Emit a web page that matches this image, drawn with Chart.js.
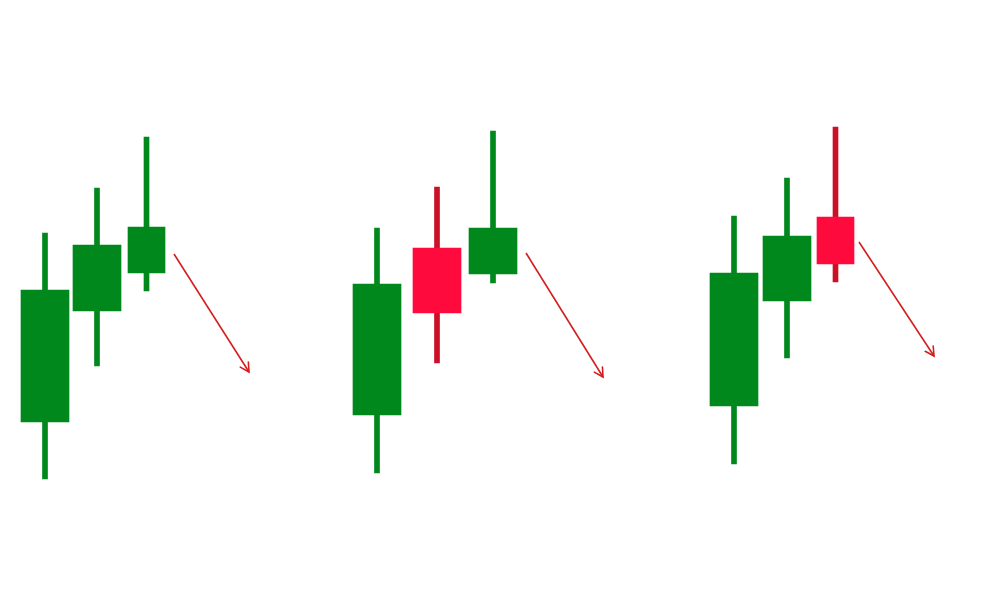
<!DOCTYPE html>
<html>
<head>
<meta charset="utf-8">
<script src="https://cdn.jsdelivr.net/npm/chart.js@4.4.1/dist/chart.umd.min.js"></script>
<style>
  html, body { margin: 0; padding: 0; background: #fff; }
  #wrap { width: 1000px; height: 600px; }
</style>
</head>
<body>
<div id="wrap"><canvas id="candles" width="1000" height="600"></canvas></div>
<script>
// three patterns of three candles each, positions along x and prices
const candleX = [45, 97, 146.5, 377, 437, 493, 734, 787, 835.5];
const opens   = [178, 289, 327, 185, 352, 326, 194, 299, 383];
const closes  = [310, 355, 373, 316, 287, 372, 327, 364, 336];
const highs   = [367, 412, 463, 372, 413, 469, 384, 422, 473];
const lows    = [121, 234, 309, 127, 237, 317, 136, 242, 318];
const narrowBody = [false, false, true, false, false, false, false, false, true];

// arrows pointing down after each pattern: [x0, y0, x1, y1]
const arrows = [
  [174, 346, 249, 228],
  [526, 347, 603, 223],
  [859, 358, 934, 244]
];

const GREEN = '#00881d';
const RED_BODY = '#ff0a3c';
const RED_WICK = '#cc1027';
const ARROW = '#d41e1e';

const up = opens.map((o, i) => closes[i] >= o);

function bodyPoints(narrow) {
  const pts = [];
  candleX.forEach((x, i) => {
    if (narrowBody[i] === narrow) {
      pts.push({ x: x, y: [opens[i], closes[i]], up: up[i] });
    }
  });
  return pts;
}

const wickPoints = candleX.map((x, i) => ({ x: x, y: [lows[i], highs[i]], up: up[i] }));

const datasets = [
  {
    type: 'bar',
    label: 'bodies',
    data: bodyPoints(false),
    barThickness: 48,
    grouped: false,
    order: 1,
    borderWidth: 0,
    backgroundColor: (c) => c.raw && c.raw.up ? GREEN : RED_BODY
  },
  {
    type: 'bar',
    label: 'bodies narrow',
    data: bodyPoints(true),
    barThickness: 37,
    grouped: false,
    order: 1,
    borderWidth: 0,
    backgroundColor: (c) => c.raw && c.raw.up ? GREEN : RED_BODY
  },
  {
    type: 'bar',
    label: 'wicks',
    data: wickPoints,
    barThickness: 5,
    grouped: false,
    order: 3,
    borderWidth: 0,
    backgroundColor: (c) => c.raw && c.raw.up ? GREEN : RED_WICK
  }
];

arrows.forEach((a, i) => {
  datasets.push({
    type: 'line',
    label: 'arrow' + i,
    isArrow: true,
    data: [{ x: a[0], y: a[1] }, { x: a[2], y: a[3] }],
    borderColor: ARROW,
    borderWidth: 1.6,
    pointRadius: 0,
    fill: false,
    order: 0
  });
});

// small open arrowhead at the end of each arrow line
const arrowHeads = {
  id: 'arrowHeads',
  afterDatasetsDraw(chart) {
    const ctx = chart.ctx;
    chart.data.datasets.forEach((ds, i) => {
      if (!ds.isArrow) return;
      const pts = chart.getDatasetMeta(i).data;
      const p0 = pts[0], p1 = pts[1];
      const ang = Math.atan2(p1.y - p0.y, p1.x - p0.x);
      const len = 10, spread = 0.5;
      ctx.save();
      ctx.strokeStyle = ds.borderColor;
      ctx.lineWidth = 1.6;
      ctx.lineCap = 'round';
      ctx.beginPath();
      ctx.moveTo(p1.x - len * Math.cos(ang - spread), p1.y - len * Math.sin(ang - spread));
      ctx.lineTo(p1.x, p1.y);
      ctx.lineTo(p1.x - len * Math.cos(ang + spread), p1.y - len * Math.sin(ang + spread));
      ctx.stroke();
      ctx.restore();
    });
  }
};

const ctx = document.getElementById('candles').getContext('2d');
const chart = new Chart(ctx, {
  type: 'bar',
  data: { datasets: datasets },
  plugins: [arrowHeads],
  options: {
    responsive: false,
    animation: false,
    devicePixelRatio: 1,
    layout: { padding: 0 },
    plugins: {
      legend: { display: false },
      tooltip: { enabled: false }
    },
    scales: {
      x: { type: 'linear', min: 0, max: 1000, offset: false, display: false },
      y: { type: 'linear', min: 0, max: 600, display: false }
    }
  }
});
</script>
</body>
</html>
